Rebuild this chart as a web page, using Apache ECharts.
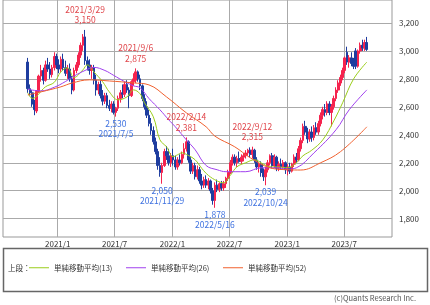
<!DOCTYPE html>
<html><head><meta charset="utf-8">
<script src="https://cdn.jsdelivr.net/npm/echarts@6/dist/echarts.min.js"></script>
<style>html,body{margin:0;padding:0;background:#fff}#c{width:430px;height:305px}</style>
</head><body><div id="c"></div>
<script>
const dates = ['2020-09-28','2020-10-05','2020-10-12','2020-10-19','2020-10-26','2020-11-02','2020-11-09','2020-11-16','2020-11-23','2020-11-30','2020-12-07','2020-12-14','2020-12-21','2020-12-28',
'2021-01-04','2021-01-11','2021-01-18','2021-01-25','2021-02-01','2021-02-08','2021-02-15','2021-02-22','2021-03-01','2021-03-08','2021-03-15','2021-03-22','2021-03-29','2021-04-05','2021-04-12','2021-04-19','2021-04-26','2021-05-03','2021-05-10','2021-05-17','2021-05-24','2021-05-31','2021-06-07','2021-06-14','2021-06-21','2021-06-28','2021-07-05','2021-07-12','2021-07-19','2021-07-26','2021-08-02','2021-08-09','2021-08-16','2021-08-23','2021-08-30','2021-09-06','2021-09-13','2021-09-20','2021-09-27','2021-10-04','2021-10-11','2021-10-18','2021-10-25','2021-11-01','2021-11-08','2021-11-15','2021-11-22','2021-11-29','2021-12-06','2021-12-13','2021-12-20','2021-12-27',
'2022-01-03','2022-01-10','2022-01-17','2022-01-24','2022-01-31','2022-02-07','2022-02-14','2022-02-21','2022-02-28','2022-03-07','2022-03-14','2022-03-21','2022-03-28','2022-04-04','2022-04-11','2022-04-18','2022-04-25','2022-05-02','2022-05-09','2022-05-16','2022-05-23','2022-05-30','2022-06-06','2022-06-13','2022-06-20','2022-06-27','2022-07-04','2022-07-11','2022-07-18','2022-07-25','2022-08-01','2022-08-08','2022-08-15','2022-08-22','2022-08-29','2022-09-05','2022-09-12','2022-09-19','2022-09-26','2022-10-03','2022-10-10','2022-10-17','2022-10-24','2022-10-31','2022-11-07','2022-11-14','2022-11-21','2022-11-28','2022-12-05','2022-12-12','2022-12-19','2022-12-26',
'2023-01-02','2023-01-09','2023-01-16','2023-01-23','2023-01-30','2023-02-06','2023-02-13','2023-02-20','2023-02-27','2023-03-06','2023-03-13','2023-03-20','2023-03-27','2023-04-03','2023-04-10','2023-04-17','2023-04-24','2023-05-01','2023-05-08','2023-05-15','2023-05-22','2023-05-29','2023-06-05','2023-06-12','2023-06-19','2023-06-26','2023-07-03','2023-07-10','2023-07-17','2023-07-24','2023-07-31','2023-08-07','2023-08-14','2023-08-21','2023-08-28','2023-09-04','2023-09-11'];

const openP = [2920,2730,2700,2620,2570,2710,2820,2860,2790,2900, 2870,2830,2880,2960,2900,2870,2940,2880,2840,2870, 2800,2720,2860,2900,2970,3040,3100,2930,2900,2860, 2880,2790,2720,2760,2680,2640,2680,2610,2590,2620, 2560,2590,2660,2700,2690,2760,2720,2680,2780,2790, 2850,2800,2750,2660,2600,2540,2480,2430,2350,2280, 2180,2130,2180,2280,2250,2200,2250,2220,2170,2220, 2200,2260,2300,2350,2220,2140,2180,2100,2150,2070, 2040,2080,2040,2070,2000,1930,2040,2010,2050,2020, 2050,2090,2130,2200,2240,2200,2230,2210,2240,2250, 2270,2290,2260,2290,2220,2170,2190,2130,2100,2150, 2200,2250,2180,2240,2160,2190,2170,2200,2150,2170, 2140,2190,2240,2220,2300,2360,2460,2420,2370,2420, 2380,2450,2420,2480,2540,2580,2560,2620,2560,2600, 2660,2720,2770,2810,2860,2990,2920,2950,2910,3000, 2890,3000,3040,3020,3060];
const highP = [2950,2760,2720,2650,2720,2830,2900,2880,2930,2950, 2920,2900,2990,2980,2940,2960,2980,2930,2900,2910, 2820,2880,2920,2990,3060,3120,3150,2960,2940,2900, 2900,2830,2780,2790,2720,2700,2700,2650,2640,2640, 2600,2680,2720,2760,2780,2790,2740,2790,2840,2875, 2860,2830,2760,2690,2640,2580,2520,2460,2380,2300, 2240,2200,2300,2320,2300,2270,2300,2250,2240,2260, 2280,2340,2381,2360,2240,2200,2200,2180,2170,2120, 2100,2110,2090,2080,2020,2060,2080,2060,2070,2070, 2100,2150,2220,2260,2260,2250,2280,2260,2270,2290, 2300,2310,2315,2300,2240,2200,2210,2160,2170,2220, 2260,2270,2260,2250,2210,2230,2220,2210,2190,2200, 2200,2260,2270,2320,2380,2480,2500,2450,2440,2460, 2470,2490,2500,2560,2600,2620,2640,2640,2620,2680, 2740,2790,2830,2880,2960,3030,2970,2990,2950,3020, 3010,3060,3080,3080,3100];
const lowP = [2700,2680,2600,2540,2555,2700,2780,2760,2780,2850, 2800,2810,2860,2870,2840,2850,2860,2820,2800,2780, 2690,2710,2840,2880,2950,3000,2900,2860,2830,2800, 2760,2680,2690,2660,2610,2620,2590,2570,2560,2545, 2530,2570,2630,2660,2670,2700,2590,2670,2750,2770, 2780,2720,2640,2580,2520,2460,2400,2330,2260,2150, 2100,2050,2170,2220,2180,2170,2180,2150,2150,2180, 2190,2230,2280,2200,2120,2120,2080,2080,2050,2010, 2020,2020,2010,1980,1900,1878,1990,1990,2000,2000, 2020,2070,2120,2180,2180,2170,2200,2190,2210,2230, 2250,2240,2230,2200,2150,2130,2100,2070,2039,2130, 2180,2160,2160,2140,2140,2150,2150,2120,2110,2120, 2130,2170,2200,2210,2280,2340,2400,2340,2350,2350, 2360,2400,2400,2460,2510,2530,2540,2540,2460,2580, 2640,2700,2750,2790,2840,2900,2880,2890,2870,2870, 2880,2980,3000,3000,3000];
const closeP = [2730,2700,2620,2580,2710,2820,2860,2790,2900,2870, 2830,2880,2960,2900,2870,2940,2880,2840,2870,2800, 2720,2860,2900,2970,3040,3100,2930,2900,2860,2880, 2790,2720,2760,2680,2640,2680,2610,2590,2620,2560, 2590,2660,2700,2690,2760,2720,2680,2780,2800,2850, 2800,2750,2660,2600,2540,2480,2430,2350,2280,2180, 2130,2180,2280,2250,2200,2250,2220,2170,2220,2200, 2260,2300,2350,2220,2140,2180,2100,2150,2070,2040, 2080,2040,2070,2000,1930,2040,2010,2050,2020,2050, 2090,2130,2200,2240,2200,2230,2210,2240,2250,2270, 2290,2260,2290,2220,2170,2190,2130,2100,2150,2200, 2250,2180,2240,2160,2190,2170,2200,2150,2170,2140, 2190,2240,2220,2300,2360,2460,2420,2370,2420,2380, 2450,2420,2480,2540,2580,2560,2620,2560,2600,2660, 2720,2770,2810,2860,2950,2920,2950,2910,2890,2890, 3000,3040,3020,3060,3010];

// moving averages (week index into dates, value)
const ma13Weeks = [0,2,8,12,15,18,21,25,27,30,34,37,41,45,48,51,53,57,60,63,66,68,70,72,76,79,82,86,89,92,95,99,103,107,110,114,118,122,125,129,134,139,143,148,154];
const ma13Vals  = [2700,2660,2743,2775,2850,2879,2810,2864,2900,2850,2779,2707,2650,2671,2721,2693,2629,2529,2364,2314,2243,2257,2271,2260,2221,2160,2110,2070,2057,2110,2171,2200,2221,2190,2171,2170,2164,2200,2250,2290,2364,2500,2629,2800,2920];
const ma26Weeks = [0,6,12,17,21,26,30,35,39,44,48,51,55,60,64,67,72,76,81,86,90,99,106,113,118,122,130,140,146,154];
const ma26Vals  = [2725,2714,2740,2780,2820,2860,2882,2860,2825,2780,2750,2736,2660,2579,2507,2457,2364,2293,2180,2150,2136,2136,2164,2164,2155,2164,2271,2436,2579,2721];
const ma52Weeks = [0,6,15,20,28,37,48,55,63,72,81,85,94,101,110,118,124,133,142,154];
const ma52Vals  = [2685,2707,2743,2770,2793,2785,2771,2757,2671,2557,2457,2390,2314,2236,2164,2150,2148,2200,2279,2457];

const yTicks = [1800,2000,2200,2400,2600,2800,3000,3200];
const xTickLabels = ['2021/1','2021/7','2022/1','2022/7','2023/1','2023/7'];

const highNoteDates = ['2021-03-29','2021-09-06','2022-02-14','2022-09-12'];
const highNoteVals  = [3150,2875,2381,2315];
const lowNoteDates  = ['2021-07-05','2021-11-29','2022-05-16','2022-10-24'];
const lowNoteVals   = [2530,2050,1878,2039];

const seriesNames = ['単純移動平均(13)','単純移動平均(26)','単純移動平均(52)'];

const FONT = '"Noto Sans CJK JP","Noto Sans",sans-serif';
const ts = s => { const p = s.split('-').map(Number); return new Date(p[0], p[1]-1, p[2] || 1).getTime(); };
const fmtNum = v => v.toLocaleString('en-US');
const fmtDate = s => { const p = s.split('-').map(Number); return p[0]+'/'+p[1]+'/'+p[2]; };
const xTicks = xTickLabels.map(l => ts(l.replace('/','-')));

const candleData = dates.map((d,i) => [ts(d), openP[i], closeP[i], lowP[i], highP[i]]);
const mk = (w, v) => w.map((k,j) => [ts(dates[k]), v[j]]);

const markData = [];
highNoteDates.forEach((d,i) => markData.push({coord:[ts(d), highNoteVals[i]],
  label:{position:'top', distance:4, color:'#e0454a', formatter: fmtDate(d)+'\n'+fmtNum(highNoteVals[i])}}));
lowNoteDates.forEach((d,i) => markData.push({coord:[ts(d), lowNoteVals[i]],
  label:{position:'bottom', distance:1, color:'#3f72e0', formatter: fmtNum(lowNoteVals[i])+'\n'+fmtDate(d)}}));

const chart = echarts.init(document.getElementById('c'), null, {renderer:'canvas'});
chart.setOption({
  animation: false,
  textStyle: {fontFamily: FONT},
  grid: {left:3, right:38, top:0, bottom:68, show:true, borderColor:'#999', borderWidth:1},
  xAxis: {type:'value', min: ts('2020-07-11'), max: ts('2023-11-30'), scale:true,
    axisLine:{show:false}, axisTick:{show:false, customValues:xTicks},
    axisLabel:{customValues:xTicks, fontSize:8, color:'#333', margin:3, fontFamily:FONT,
      formatter: v => { const d = new Date(v); return d.getFullYear()+'/'+(d.getMonth()+1); }},
    splitLine:{show:true, lineStyle:{color:'#aaaaaa', width:1}}},
  yAxis: {type:'value', position:'right', min:1669, max:3364, scale:true,
    axisLine:{show:false}, axisTick:{show:false, customValues:yTicks},
    axisLabel:{customValues:yTicks, fontSize:8, color:'#333', margin:7, fontFamily:FONT, formatter: v => fmtNum(v)},
    splitLine:{show:true, lineStyle:{color:'#aaaaaa', width:1}}},
  legend: [0,1,2].map(k => ({data:[seriesNames[k]], left:[29,126,223][k], top:264, padding:0, icon:'rect',
    itemWidth:20, itemHeight:1, itemGap:0, textStyle:{fontSize:7.5, color:'#333', fontFamily:FONT}})),
  graphic: [
    {type:'rect', shape:{x:3.5, y:248.5, width:424, height:43}, style:{fill:'none', stroke:'#666', lineWidth:1.5}},
    {type:'text', left:8, top:264, style:{text:'上段：', fontSize:7.5, fill:'#333', fontFamily:FONT}},
    {type:'text', right:14, top:294, style:{text:'(c)Quants Research Inc.', fontSize:7.5, fill:'#555', fontFamily:FONT}}
  ],
  series: [
    {type:'candlestick', name:'price', data:candleData, barWidth:2.2,
      itemStyle:{color:'#f5234e', color0:'#1e3d9f', borderColor:'#f5234e', borderColor0:'#1e3d9f', borderWidth:1},
      markPoint:{symbol:'rect', symbolSize:1, itemStyle:{color:'rgba(0,0,0,0)'},
        label:{fontSize:8.5, lineHeight:10.5, fontFamily:FONT}, data:markData}},
    {type:'line', name:seriesNames[0], data:mk(ma13Weeks, ma13Vals), smooth:0.4, showSymbol:false, color:'#9acd1a', lineStyle:{width:1}},
    {type:'line', name:seriesNames[1], data:mk(ma26Weeks, ma26Vals), smooth:0.4, showSymbol:false, color:'#a040ee', lineStyle:{width:1}},
    {type:'line', name:seriesNames[2], data:mk(ma52Weeks, ma52Vals), smooth:0.4, showSymbol:false, color:'#f0602e', lineStyle:{width:1}}
  ]
});
</script></body></html>
